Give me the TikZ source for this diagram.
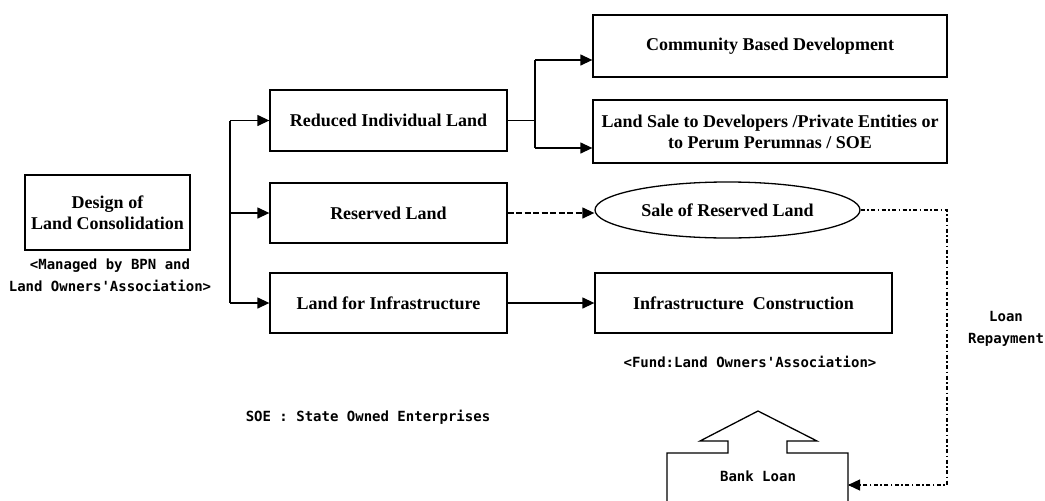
\documentclass[tikz,border=0pt]{standalone}
\usepackage{fontspec}
\setmainfont{Liberation Serif}
\setmonofont{DejaVu Sans Mono}
\usetikzlibrary{arrows.meta,shapes.geometric}
\tikzset{
  boxnode/.style={draw, line width=1.3pt, align=center, inner sep=0pt,
    font=\bfseries\fontsize{18}{21}\selectfont},
  note/.style={align=center, inner sep=0pt,
    font=\ttfamily\bfseries\fontsize{14}{22}\selectfont},
  conn/.style={line width=1.3pt},
  arr/.style={line width=1.3pt, -{Triangle[length=12pt,width=11pt]}},
  dashconn/.style={line width=1.3pt, dash pattern=on 6pt off 2.5pt, -{Triangle[length=12pt,width=11pt]}},
  dotconn/.style={line width=1.6pt, dash pattern=on 4pt off 2.5pt on 1.5pt off 2.5pt}
}
\begin{document}
\begin{tikzpicture}[x=1pt,y=-1pt]
\useasboundingbox (0,0) rectangle (1045,501);
\fill[white] (0,0) rectangle (1045,501);

% nodes
\node[boxnode, minimum width=165pt, minimum height=75pt] (design) at (107.5,212.5) {Design of\\Land Consolidation};
\node[note] (mng) at (110,275) {<Managed by BPN and\\Land Owners'Association>};

\node[boxnode, minimum width=237pt, minimum height=61pt] (reduced) at (388.5,120.5) {Reduced Individual Land};
\node[boxnode, minimum width=237pt, minimum height=60pt] (reserved) at (388.5,213) {Reserved Land};
\node[boxnode, minimum width=237pt, minimum height=60pt] (infra) at (388.5,303) {Land for Infrastructure};

\node[boxnode, minimum width=354pt, minimum height=62pt] (comm) at (770,46) {Community Based Development};
\node[boxnode, minimum width=354pt, minimum height=63pt] (sale) at (770,131.5) {Land Sale to Developers /Private Entities or\\to Perum Perumnas / SOE};
\node[boxnode, ellipse, minimum width=265pt, minimum height=56pt] (ell) at (727.5,210) {Sale of Reserved Land};
\node[boxnode, minimum width=297pt, minimum height=60pt] (infc) at (743.5,303) {Infrastructure\ \ Construction};
\node[note] (fund) at (750,362) {<Fund:Land Owners'Association>};

\node[note] (soe) at (368,417) {SOE : State Owned Enterprises};
\node[note] (loan) at (1006,329) {Loan\\Repayment};

% bank loan shape with block arrow
\draw[line width=1.3pt] (667,501) -- (667,453) -- (728,453) -- (728,441) -- (700,441)
  -- (758,411) -- (817,441) -- (787,441) -- (787,453) -- (848,453) -- (848,501);
\node[note, font=\ttfamily\bfseries\fontsize{14}{16}\selectfont] (bank) at (758,476) {Bank Loan};
\coordinate (bankE) at (848,485);

% trunk
\coordinate (t1) at (230,120.5);
\coordinate (t2) at (230,213);
\coordinate (t3) at (230,303);
\draw[conn] (t1) -- (t3);
\draw[arr] (t1) -- (reduced.west);
\draw[arr] (t2) -- (reserved.west);
\draw[arr] (t3) -- (infra.west);

% branch from reduced
\coordinate (b0) at (535,120.5);
\coordinate (b1) at (535,60);
\coordinate (b2) at (535,148);
\draw[conn] (reduced.east) -- (b0);
\draw[conn] (b1) -- (b2);
\draw[arr] (b1) -- (b1 -| comm.west);
\draw[arr] (b2) -- (b2 -| sale.west);

% reserved -> sale of reserved land
\draw[dashconn] (reserved.east) -- (reserved.east -| ell.west);

% infrastructure
\draw[arr] (infra.east) -- (infc.west);

% loan repayment loop
\coordinate (r1) at (947,210);
\coordinate (r2) at (947,485);
\draw[dotconn] (ell.east) -- (r1) -- (r2) -- (bankE);
\draw[line width=1.3pt, -{Triangle[length=12pt,width=11pt]}] (bankE) ++(4,0) -- (bankE);
\end{tikzpicture}
\end{document}
